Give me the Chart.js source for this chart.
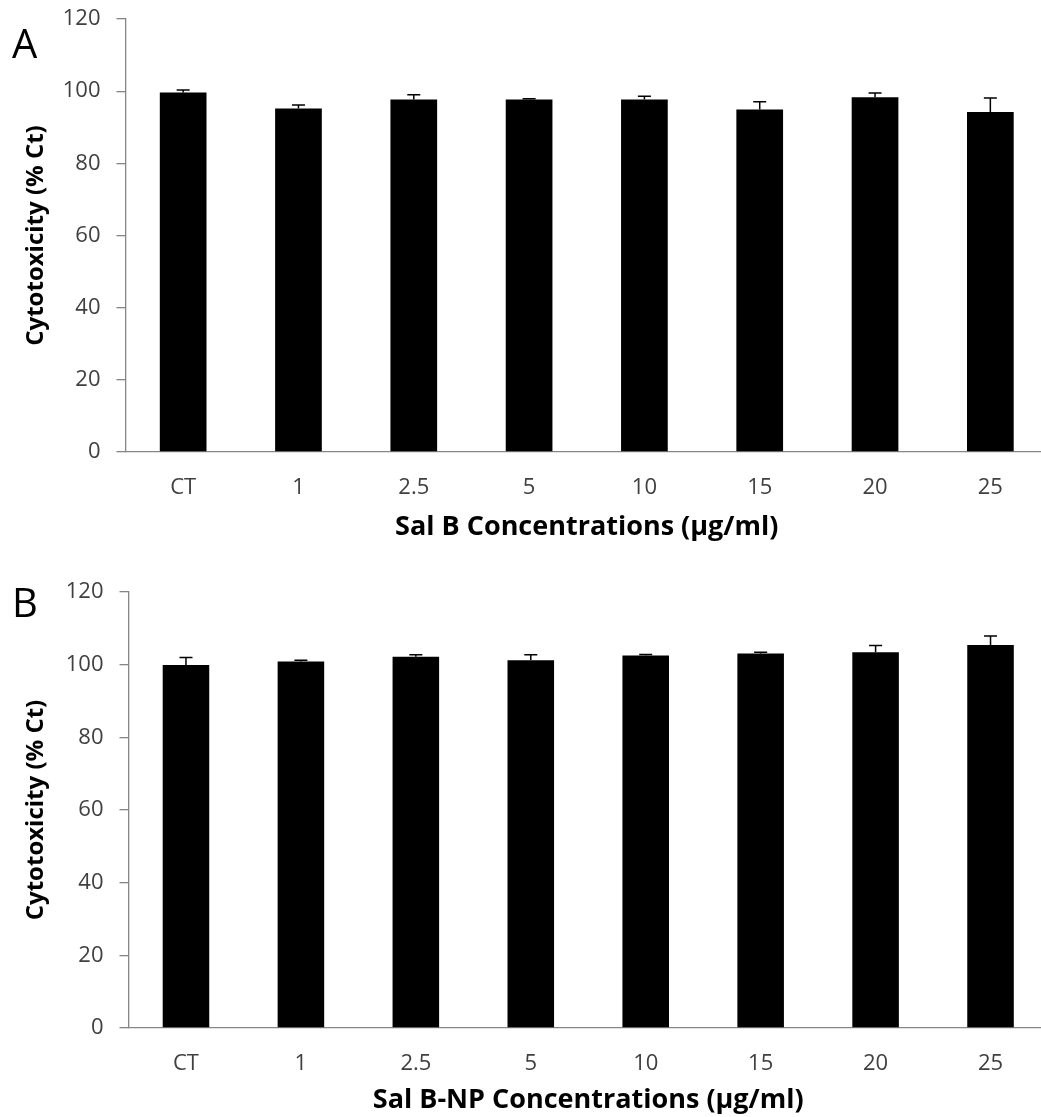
<!DOCTYPE html>
<html>
<head>
<meta charset="utf-8">
<title>Cytotoxicity</title>
<script src="https://cdn.jsdelivr.net/npm/chart.js@4.4.1/dist/chart.umd.min.js"></script>
<style>
    html, body { margin: 0; padding: 0; background: #fff; overflow: hidden; }
    #page { position: relative; width: 1041px; height: 1117px; overflow: hidden; }
    .panel { position: absolute; left: 0; width: 1052px; }
    .letter { position: absolute; font-family: "Open Sans", sans-serif; font-size: 40px; line-height: 1; color: #000; }
</style>
</head>
<body>
<div id="page">
    <div class="panel" style="top:0;height:560px;"><canvas id="chartA"></canvas></div>
    <div class="panel" style="top:560px;height:557px;"><canvas id="chartB"></canvas></div>
    <div class="letter" style="left:12px;top:23px;">A</div>
    <div class="letter" style="left:12px;top:582px;">B</div>
</div>
<script>
var categories = ['CT', '1', '2.5', '5', '10', '15', '20', '25'];

// Sal B free drug
var salB = [99.6, 95.2, 97.7, 97.7, 97.7, 94.9, 98.3, 94.2];
var salBErr = [0.7, 1.0, 1.3, 0.2, 0.9, 2.2, 1.2, 3.9];

// Sal B nanoparticles
var salBNP = [99.9, 100.9, 102.2, 101.2, 102.5, 103.1, 103.4, 105.4];
var salBNPErr = [2.1, 0.3, 0.5, 1.5, 0.3, 0.3, 1.9, 2.5];

var yTicks = [0, 20, 40, 60, 80, 100, 120];

var axisColor = '#868686';
var labelColor = '#404040';
var fontFamily = '"Open Sans", sans-serif';

// upper error bars only, drawn on top of each bar
var errorBars = {
    id: 'errorBars',
    afterDatasetsDraw: function (chart) {
        var ctx = chart.ctx;
        var yScale = chart.scales.y;
        chart.data.datasets.forEach(function (ds, i) {
            var meta = chart.getDatasetMeta(i);
            meta.data.forEach(function (bar, j) {
                var top = yScale.getPixelForValue(ds.data[j] + ds.errors[j]);
                ctx.save();
                ctx.strokeStyle = '#000';
                ctx.lineWidth = 1.5;
                ctx.beginPath();
                ctx.moveTo(bar.x, bar.y);
                ctx.lineTo(bar.x, top);
                ctx.moveTo(bar.x - 6.5, top);
                ctx.lineTo(bar.x + 6.5, top);
                ctx.stroke();
                ctx.restore();
            });
        });
    }
};

function makeChart(id, values, errors, xTitle, o) {
    var ctx = document.getElementById(id).getContext('2d');
    return new Chart(ctx, {
        type: 'bar',
        data: {
            labels: categories,
            datasets: [{
                data: values,
                errors: errors,
                backgroundColor: '#000',
                borderWidth: 0,
                categoryPercentage: 1,
                barPercentage: 0.405
            }]
        },
        options: {
            responsive: true,
            maintainAspectRatio: false,
            animation: false,
            events: [],
            layout: { padding: { left: 0, top: o.top, right: 4, bottom: 0 } },
            plugins: { legend: { display: false }, tooltip: { enabled: false } },
            scales: {
                x: {
                    grid: { display: true, drawOnChartArea: false, drawTicks: false },
                    border: { color: axisColor, width: 1.3 },
                    ticks: {
                        color: labelColor,
                        padding: 23,
                        font: { family: fontFamily, size: 22 }
                    },
                    title: {
                        display: true,
                        text: xTitle,
                        color: '#000',
                        padding: { top: 0, bottom: o.titlePad },
                        font: { family: fontFamily, size: 27, weight: 'bold' }
                    },
                    afterFit: function (s) { s.height = o.xHeight; }
                },
                y: {
                    min: 0,
                    max: 120,
                    afterBuildTicks: function (s) {
                        s.ticks = yTicks.map(function (v) { return { value: v }; });
                    },
                    grid: { display: true, drawOnChartArea: false, drawTicks: true, tickLength: 9, color: axisColor, lineWidth: 1.3 },
                    border: { color: axisColor, width: 1.3 },
                    ticks: {
                        color: labelColor,
                        padding: 16,
                        font: { family: fontFamily, size: 22 }
                    },
                    title: {
                        display: true,
                        text: 'Cytotoxicity (% Ct)',
                        color: '#000',
                        padding: { top: 22, bottom: 0 },
                        font: { family: fontFamily, size: 24, weight: 'bold' }
                    },
                    afterFit: function (s) {
                        s.width = o.yWidth;
                        // the top label fits inside the layout padding
                        s.paddingTop = 10;
                    }
                }
            }
        },
        plugins: [errorBars]
    });
}

makeChart('chartA', salB, salBErr, 'Sal B Concentrations (\u00b5g/ml)',
    { top: 19, xHeight: 108, yWidth: 125.5, titlePad: 16 });
makeChart('chartB', salBNP, salBNPErr, 'Sal B-NP Concentrations (\u00b5g/ml)',
    { top: 32, xHeight: 89, yWidth: 128.5, titlePad: 0 });
</script>
</body>
</html>
